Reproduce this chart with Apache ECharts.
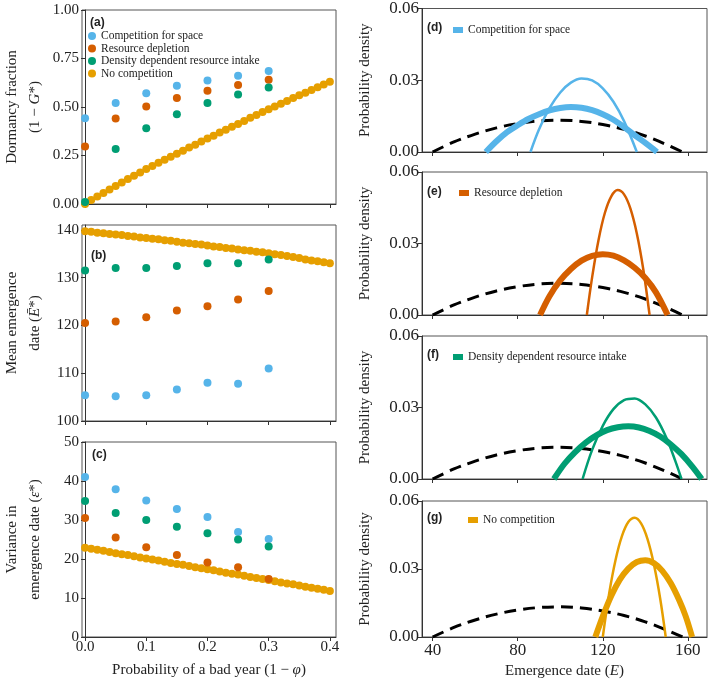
<!DOCTYPE html>
<html><head><meta charset="utf-8">
<script src="https://cdn.jsdelivr.net/npm/echarts@6/dist/echarts.min.js"></script>
<style>html,body{margin:0;padding:0;background:#fff}#c{width:709px;height:680px}</style>
</head><body><div id="c"></div><script>
// ---------- data ----------
const probCoarse = [0, 0.05, 0.1, 0.15, 0.2, 0.25, 0.3];
const probFine = [0,0.01,0.02,0.03,0.04,0.05,0.06,0.07,0.08,0.09,0.1,0.11,0.12,0.13,0.14,0.15,0.16,0.17,0.18,0.19,0.2,0.21,0.22,0.23,0.24,0.25,0.26,0.27,0.28,0.29,0.3,0.31,0.32,0.33,0.34,0.35,0.36,0.37,0.38,0.39,0.4];
const probTicks = [0, 0.1, 0.2, 0.3, 0.4];

const dormSpace = [0.442, 0.521, 0.571, 0.609, 0.636, 0.661, 0.686];
const dormDepl  = [0.296, 0.441, 0.502, 0.547, 0.584, 0.613, 0.641];
const dormDens  = [0.010, 0.283, 0.390, 0.463, 0.521, 0.565, 0.601];
const dormNone  = [0,0.020,0.039,0.057,0.075,0.093,0.111,0.129,0.146,0.163,0.180,0.196,0.212,0.228,0.244,0.259,0.275,0.291,0.306,0.322,0.337,0.352,0.368,0.383,0.398,0.413,0.428,0.444,0.459,0.474,0.489,0.503,0.517,0.531,0.546,0.560,0.574,0.588,0.602,0.616,0.630];

const meanSpace = [105.4, 105.2, 105.4, 106.6, 108.0, 107.8, 111.0];
const meanDepl  = [120.5, 120.8, 121.7, 123.1, 124.0, 125.4, 127.2];
const meanDens  = [131.5, 132.0, 132.0, 132.4, 133.0, 133.0, 133.8];
const meanNone  = [139.7,139.6,139.4,139.3,139.1,139.0,138.9,138.7,138.6,138.4,138.3,138.1,138.0,137.8,137.7,137.5,137.3,137.2,137.0,136.9,136.7,136.5,136.4,136.2,136.1,135.9,135.7,135.6,135.4,135.3,135.1,134.9,134.7,134.5,134.3,134.1,133.8,133.6,133.4,133.2,133.0];

const varSpace = [41.0, 37.9, 35.0, 32.8, 30.8, 26.9, 25.1];
const varDepl  = [30.5, 25.5, 23.0, 21.0, 19.1, 17.9, 14.9];
const varDens  = [34.9, 31.8, 30.0, 28.3, 26.6, 25.0, 23.2];
const varNone  = [22.9,22.6,22.4,22.1,21.8,21.5,21.2,21.0,20.7,20.4,20.1,19.9,19.6,19.3,19.0,18.7,18.5,18.2,17.9,17.6,17.4,17.1,16.8,16.5,16.2,16.0,15.7,15.4,15.1,14.9,14.6,14.3,14.0,13.7,13.5,13.2,12.9,12.6,12.4,12.1,11.8];

const dateTicks = [40, 80, 120, 160];
const baseX = [40, 50, 60, 70, 80, 90, 100, 110, 120, 130, 140, 150, 157.5];
const baseY = [0, 0.0042, 0.0075, 0.0101, 0.0119, 0.0130, 0.0133, 0.0128, 0.0115, 0.0095, 0.0067, 0.0031, 0];

const spaceWideX = [65, 70, 75, 80, 85, 90, 95, 100, 105, 110, 115, 120, 125, 130, 135, 140, 145.5];
const spaceWideY = [0, 0.0045, 0.0083, 0.0112, 0.0138, 0.0158, 0.0174, 0.0184, 0.0188, 0.0185, 0.0175, 0.0158, 0.0135, 0.0104, 0.0070, 0.0038, 0];
const spaceNarrowX = [86, 90, 95, 100, 105, 110, 115, 120, 125, 130, 136];
const spaceNarrowY = [0, 0.0094, 0.0184, 0.0249, 0.0290, 0.0307, 0.0299, 0.0266, 0.0210, 0.0129, 0];

const deplWideX = [90.5, 95, 100, 105, 110, 115, 120, 125, 130, 135, 140, 145, 150.5];
const deplWideY = [0, 0.0080, 0.0145, 0.0193, 0.0228, 0.0248, 0.0255, 0.0249, 0.0229, 0.0198, 0.0155, 0.0095, 0];
const deplNarrowX = [112.5, 115, 118, 121, 124, 127, 130, 133, 136, 139, 142];
const deplNarrowY = [0, 0.0159, 0.0315, 0.0429, 0.0498, 0.0524, 0.0506, 0.0446, 0.0342, 0.0194, 0];

const densWideX = [97, 102, 107, 112, 117, 122, 127, 132, 137, 142, 147, 152, 157, 162, 166.5];
const densWideY = [0, 0.0064, 0.0113, 0.0153, 0.0183, 0.0205, 0.0217, 0.0221, 0.0216, 0.0201, 0.0178, 0.0145, 0.0104, 0.0053, 0];
const densNarrowX = [110.5, 115, 120, 125, 130, 135, 140, 145, 150, 154, 157];
const densNarrowY = [0, 0.0122, 0.0223, 0.0293, 0.0331, 0.0338, 0.0313, 0.0258, 0.0171, 0.0078, 0];

const noneWideX = [116.5, 120, 124, 128, 132, 136, 140, 144, 148, 152, 156, 159, 162];
const noneWideY = [0, 0.0091, 0.0182, 0.0253, 0.0302, 0.0331, 0.0339, 0.0326, 0.0292, 0.0237, 0.0161, 0.0091, 0];
const noneNarrowX = [120, 123, 126, 129, 132, 135, 138, 141, 144, 147, 149.6];
const noneNarrowY = [0, 0.0192, 0.0340, 0.0445, 0.0507, 0.0526, 0.0501, 0.0433, 0.0322, 0.0169, 0];

// ---------- chart ----------
const C = {space:'#56B4E9', depl:'#D55E00', dens:'#009E73', none:'#E69F00'};
const N = {space:'Competition for space', depl:'Resource depletion', dens:'Density dependent resource intake', none:'No competition'};
const SERIF = 'Liberation Serif', SANS = 'Liberation Sans';
const pair = (xs, ys) => xs.map((x, i) => [x, ys[i]]);

const leftG = [{top:10,height:194},{top:225,height:196},{top:442,height:195}];
const rightG = [{top:8,height:144},{top:172,height:143},{top:336,height:143},{top:501,height:141}];
const grid = [
  ...leftG.map(g => ({left:80, width:256, top:g.top, height:g.height, show:true, borderColor:'#555', borderWidth:1})),
  ...rightG.map(g => ({left:422, width:285, top:g.top, height:g.height, show:true, borderColor:'#555', borderWidth:1}))
];
const lineC = '#333';
const tickFont = {fontFamily:SERIF, fontSize:15, color:'#222'};
const tickFontR = {fontFamily:SERIF, fontSize:17, color:'#222'};
const richName = {
  t:{fontFamily:SERIF, fontSize:15, color:'#222', lineHeight:23},
  i:{fontFamily:SERIF, fontSize:15, color:'#222', fontStyle:'italic', lineHeight:23}
};

function leftX(i, show) {
  const ax = {type:'value', gridIndex:i, min:-0.005, max:0.41,
    axisLine:{onZero:false, lineStyle:{color:lineC}},
    axisTick:{customValues:probTicks, length:4, lineStyle:{color:lineC}},
    axisLabel:{show:show, customValues:probTicks, formatter:v=>v.toFixed(1), margin:3, ...tickFont},
    splitLine:{show:false}};
  if (show) {
    ax.name = '{t|Probability of a bad year (1 − }{i|φ}{t|)}';
    ax.nameLocation = 'middle'; ax.nameGap = 22;
    ax.nameTextStyle = {rich:richName};
  }
  return ax;
}
function rightX(i, show) {
  const ax = {type:'value', gridIndex:i, min:35, max:169,
    axisLine:{onZero:false, lineStyle:{color:lineC}},
    axisTick:{customValues:dateTicks, length:4, lineStyle:{color:lineC}},
    axisLabel:{show:show, customValues:dateTicks, margin:5, ...tickFontR},
    splitLine:{show:false}};
  if (show) {
    ax.name = '{t|Emergence date (}{i|E}{t|)}';
    ax.nameLocation = 'middle'; ax.nameGap = 23;
    ax.nameTextStyle = {rich:richName};
  }
  return ax;
}
function yAx(i, o, name, gap) {
  return Object.assign({type:'value', gridIndex:i,
    axisLine:{show:true, lineStyle:{color:lineC}},
    axisTick:{show:true, length:4, lineStyle:{color:lineC}},
    splitLine:{show:false},
    name:name, nameLocation:'middle', nameRotate:90, nameGap:gap,
    nameTextStyle:{rich:richName, lineHeight:23}}, o);
}

const xAxis = [leftX(0,false), leftX(1,false), leftX(2,true),
  rightX(3,false), rightX(4,false), rightX(5,false), rightX(6,true)];
const pdName = '{t|Probability density}';
const pdY = i => yAx(i, {min:0, max:0.06, interval:0.03,
  axisLabel:{formatter:v=>v.toFixed(2), margin:3, ...tickFontR}}, pdName, 45);
const yAxis = [
  yAx(0, {min:0, max:1, interval:0.25, axisLabel:{formatter:v=>v.toFixed(2), margin:3, ...tickFont}},
      '{t|Dormancy fraction}\n{t|(1 − }{i|G}{t|*)}', 35),
  yAx(1, {min:100, max:141, axisLabel:{customValues:[100,110,120,130,140], margin:3, ...tickFont},
      axisTick:{show:true, length:4, customValues:[100,110,120,130,140], lineStyle:{color:lineC}}},
      '{t|Mean emergence}\n{t|date (}{i|Ē}{t|*)}', 35),
  yAx(2, {min:0, max:50, interval:10, axisLabel:{margin:3, ...tickFont}},
      '{t|Variance in}\n{t|emergence date (}{i|ε}{t|*)}', 35),
  pdY(3), pdY(4), pdY(5), pdY(6)
];

const series = [];
function sc(g, name, color, xs, ys) {
  series.push({type:'scatter', name:name, xAxisIndex:g, yAxisIndex:g, data:pair(xs, ys),
    symbolSize:8, itemStyle:{color:color, opacity:1}, silent:true});
}
[[dormNone,dormSpace,dormDepl,dormDens],[meanNone,meanSpace,meanDepl,meanDens],[varNone,varSpace,varDepl,varDens]]
  .forEach((s, g) => {
    sc(g, N.none, C.none, probFine, s[0]);
    sc(g, N.space, C.space, probCoarse, s[1]);
    sc(g, N.depl, C.depl, probCoarse, s[2]);
    sc(g, N.dens, C.dens, probCoarse, s[3]);
  });
function ln(g, name, color, xs, ys, w, dashed) {
  series.push({type:'line', name:name, xAxisIndex:g, yAxisIndex:g, data:pair(xs, ys),
    showSymbol:false, smooth:0.35, silent:true,
    lineStyle:{color:color, width:w, type: dashed ? [12, 7] : 'solid', cap:'butt'},
    itemStyle:{color:color}});
}
const panels = [
  [3, 'space', spaceWideX, spaceWideY, spaceNarrowX, spaceNarrowY],
  [4, 'depl', deplWideX, deplWideY, deplNarrowX, deplNarrowY],
  [5, 'dens', densWideX, densWideY, densNarrowX, densNarrowY],
  [6, 'none', noneWideX, noneWideY, noneNarrowX, noneNarrowY]
];
panels.forEach(p => {
  ln(p[0], 'baseline', '#000', baseX, baseY, 3, true);
  ln(p[0], N[p[1]], C[p[1]], p[2], p[3], 6, false);
  ln(p[0], N[p[1]], C[p[1]], p[4], p[5], 2.5, false);
});

const legTxt = {fontFamily:SERIF, fontSize:11.5, color:'#222', lineHeight:12};
const legend = [
  {left:88, top:30, orient:'vertical', padding:0, itemGap:0.5, itemWidth:8, itemHeight:8, icon:'circle',
   selectedMode:false, textStyle:legTxt, data:[N.space, N.depl, N.dens, N.none]},
  ...[[N.space, 453, 24],[N.depl, 459, 187],[N.dens, 453, 351],[N.none, 468, 514]].map(l => ({
    left:l[1], top:l[2], padding:0, itemWidth:10, itemHeight:6, icon:'rect', selectedMode:false,
    textStyle:legTxt, data:[l[0]]}))
];
const labels = [['(a)',90,17],['(b)',91,250],['(c)',92,449],['(d)',427,22],['(e)',427,186],['(f)',427,349],['(g)',427,512]];
const title = labels.map(l => ({text:l[0], left:l[1], top:l[2], padding:0,
  textStyle:{fontFamily:SANS, fontWeight:'bold', fontSize:12, color:'#222'}}));

const chart = echarts.init(document.getElementById('c'));
chart.setOption({animation:false, backgroundColor:'#fff', title, legend, grid, xAxis, yAxis, series});
</script></body></html>
